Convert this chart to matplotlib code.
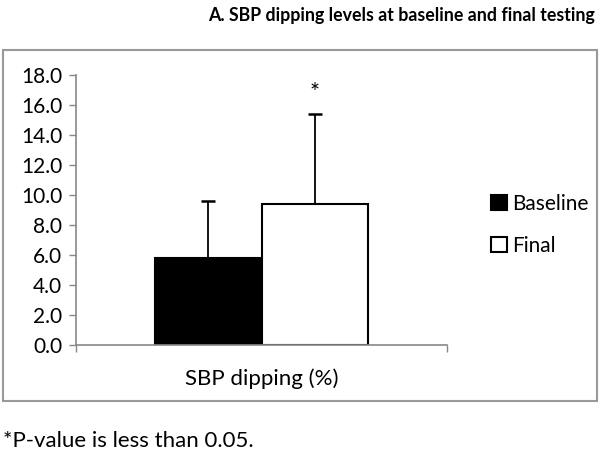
import matplotlib
matplotlib.use('Agg')
import matplotlib.pyplot as plt
import matplotlib.patches as mpatches

plt.rcParams['font.family'] = ['Lato', 'DejaVu Sans']

# datos
grupos = ['Baseline', 'Final']
medias = [5.8, 9.4]
desv = [3.8, 6.0]
colores = ['black', 'white']
categoria = 'SBP dipping (%)'
yticks = [0, 2, 4, 6, 8, 10, 12, 14, 16, 18]

fig = plt.figure(figsize=(6, 4.55), dpi=100)
W, H = 600, 455

def box(x0, y0, x1, y1):
    # pixeles -> coordenadas de figura
    return [x0 / W, 1 - y1 / H, (x1 - x0) / W, (y1 - y0) / H]

ax = fig.add_axes(box(76, 75, 447, 345))

ancho = 0.575
pos = [-ancho / 2, ancho / 2]
for p, m, s, c, g in zip(pos, medias, desv, colores, grupos):
    ax.bar(p, m, width=ancho, color=c, edgecolor='black', linewidth=1.5,
           label=g, zorder=2)
    ax.errorbar(p, m, yerr=[[0], [s]], fmt='none', ecolor='black',
                elinewidth=1.3, capsize=5, capthick=1.8, zorder=1)

# asterisco sobre Final
ax.text(pos[1], medias[1] + desv[1] + 0.7, '*', ha='center', va='bottom',
        fontsize=17)

ax.set_xlim(-1, 1)
ax.set_ylim(0, 18)
ax.set_yticks(yticks)
ax.set_yticklabels([f'{v:.1f}' for v in yticks], fontsize=15)
ax.set_xticks([-1, 1])
ax.set_xticklabels(['', ''])
ax.tick_params(axis='both', direction='out', length=5, color='#888888',
               width=1)
ax.tick_params(axis='y', pad=5)
ax.set_xlabel(categoria, fontsize=16, labelpad=8)

for lado in ['top', 'right']:
    ax.spines[lado].set_visible(False)
for lado in ['left', 'bottom']:
    ax.spines[lado].set_color('#888888')
    ax.spines[lado].set_linewidth(1.2)

# leyenda
handles = [mpatches.Patch(facecolor=c, edgecolor='black', linewidth=1.5)
           for c in colores]
fig.legend(handles, grupos, loc='center left',
           bbox_to_anchor=(481 / W, 1 - 225 / H), frameon=False,
           fontsize=15, handlelength=0.75, handleheight=0.75,
           handletextpad=0.25, labelspacing=1.05, borderpad=0)

# marco exterior
fig.patches.append(mpatches.Rectangle((3 / W, 1 - 401 / H), 594 / W,
                                      351 / H, transform=fig.transFigure,
                                      fill=False, edgecolor='#999999',
                                      linewidth=1.5))

fig.text(595 / W, 1 - 16 / H,
         'A. SBP dipping levels at baseline and final testing',
         ha='right', va='center', fontsize=12.8, fontweight='bold')
fig.text(3 / W, 1 - 441 / H, '*P-value is less than 0.05.',
         ha='left', va='center', fontsize=16)

fig.savefig('out.png', dpi=100)
